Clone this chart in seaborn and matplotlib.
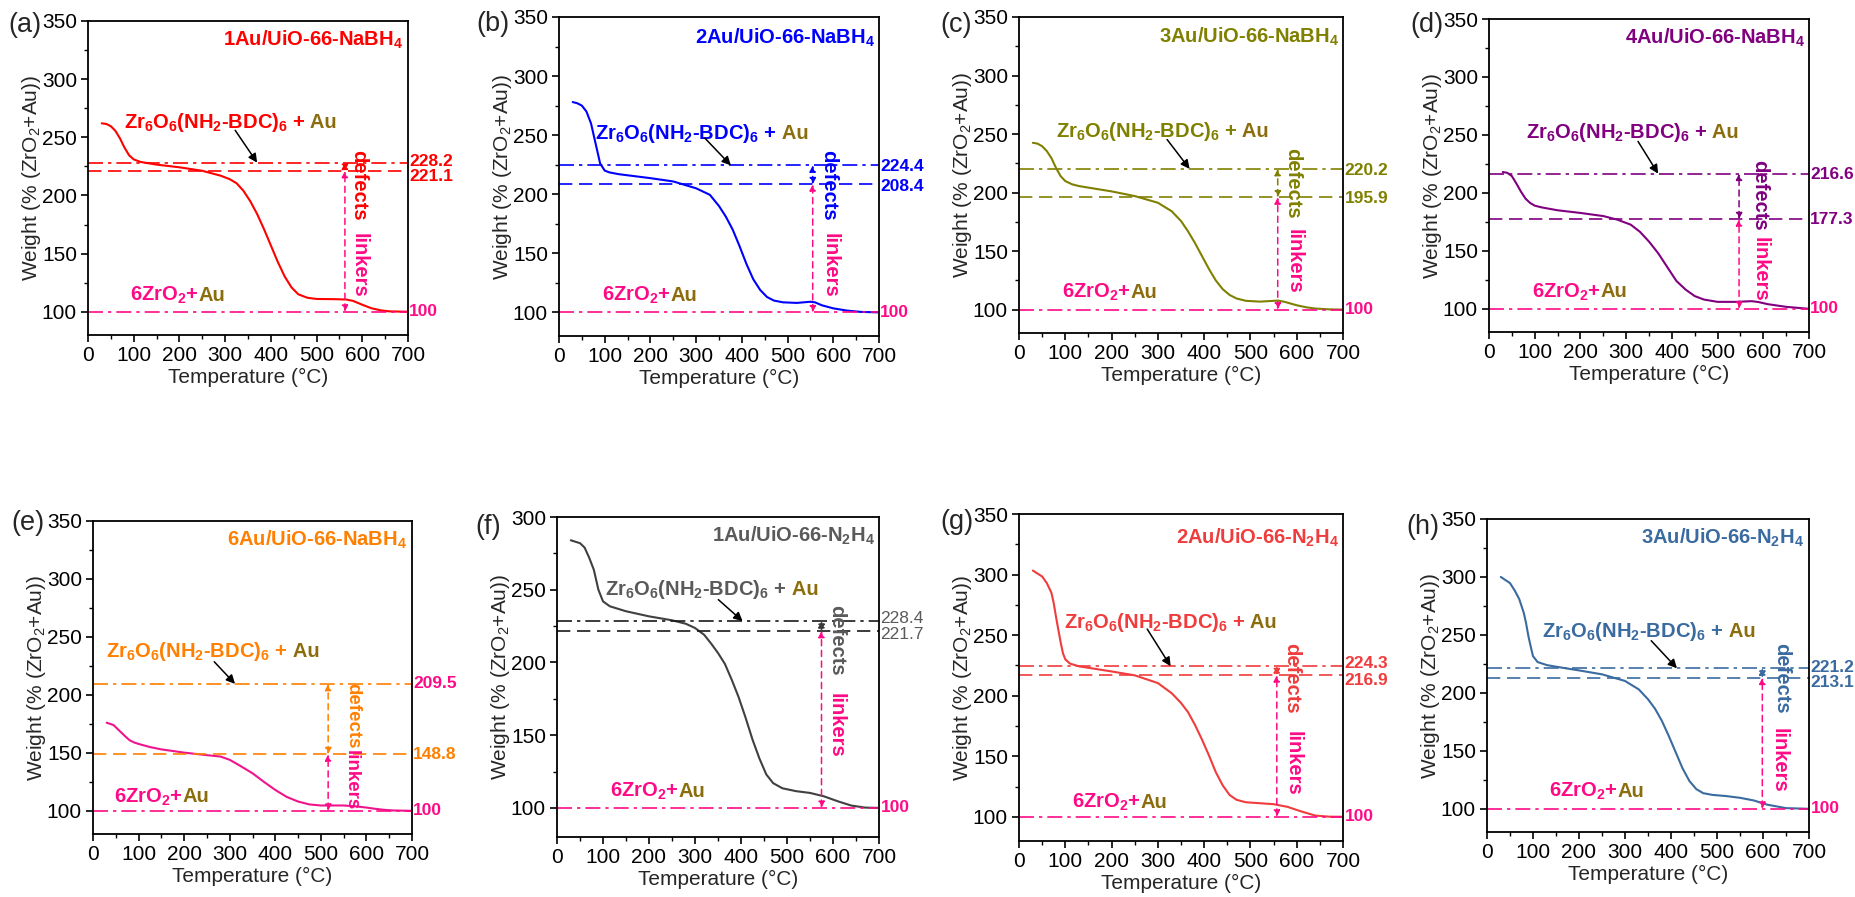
import matplotlib
matplotlib.use("Agg")
import matplotlib.pyplot as plt
import numpy as np
import pandas as pd
import seaborn as sns
from matplotlib.offsetbox import TextArea, HPacker, AnnotationBbox
from matplotlib.ticker import MultipleLocator

# ---------------- TGA curves: temperature (°C) and normalised weight (%) ----------------
temp_a = [30, 40, 50, 60, 70, 80, 90, 100, 115, 150, 200, 250, 290, 310, 325, 340, 355, 370,
          385, 400, 415, 430, 445, 460, 480, 500, 540, 565, 580, 600, 620, 640, 660, 700]
weight_a = [262, 261.5, 259.5, 255.5, 249, 241, 234.5, 231, 228.8, 226.5, 224.2, 221.2, 217,
            214, 210.5, 204, 195, 184, 171, 157, 143, 130.5, 121, 115, 112, 111, 110.8, 110.5,
            109.3, 106, 103, 101.2, 100.3, 100]

temp_b = [30, 40, 50, 60, 70, 80, 90, 100, 110, 130, 200, 250, 300, 330, 350, 365, 380, 395,
          410, 425, 440, 455, 470, 490, 520, 550, 560, 575, 600, 630, 660, 700]
weight_b = [278, 277, 275, 270, 260, 243, 226, 220, 218.5, 217, 213.6, 210.8, 205, 199.5, 190,
            181, 170, 156, 141, 128, 119, 113, 110, 108.5, 108, 109, 108.5, 106, 103.4, 101.5,
            100.4, 100]

temp_c = [30, 40, 50, 60, 70, 80, 90, 100, 115, 130, 200, 250, 300, 330, 350, 365, 380, 395,
          410, 425, 440, 455, 470, 490, 520, 560, 575, 600, 620, 640, 670, 700]
weight_c = [242.5, 241.8, 239.6, 235.5, 229.5, 221, 214, 209.8, 207, 205.5, 201, 197, 191.3,
            184, 175.7, 167, 157, 146, 135, 125, 117.5, 112.5, 109.5, 107.5, 106.8, 107.7,
            106.5, 103.7, 102, 100.9, 100.2, 100]

temp_d = [30, 40, 50, 60, 70, 80, 90, 100, 115, 150, 200, 250, 280, 310, 330, 350, 370, 390,
          410, 430, 450, 470, 500, 540, 575, 590, 610, 650, 700]
weight_d = [218, 217.3, 214.5, 208, 201, 195, 191.3, 189, 187.5, 185, 182.7, 180, 177, 172.6,
            166.5, 158, 148, 136, 124, 116.6, 111, 108, 106, 106, 106.6, 105.8, 104, 101.7, 100]

temp_e = [30, 45, 60, 70, 80, 90, 100, 125, 150, 200, 250, 280, 300, 320, 350, 375, 400, 425,
          450, 475, 500, 550, 580, 600, 620, 640, 660, 700]
weight_e = [176, 174, 168.3, 164.5, 161, 159, 157.7, 155, 153, 150.2, 148, 146.8, 144, 139.5,
            132.4, 125, 118, 112, 108, 105.5, 104.6, 104.6, 103.7, 102.8, 101.7, 100.8, 100.3, 100]

temp_f = [30, 50, 60, 70, 80, 90, 100, 115, 150, 200, 250, 280, 300, 320, 335, 350, 365, 380,
          395, 410, 425, 440, 455, 470, 490, 520, 550, 580, 610, 640, 670, 700]
weight_f = [284, 282, 279, 272, 263.8, 250, 242, 238.6, 235.2, 231.7, 229, 226.6, 223.7, 219,
            213, 206.5, 199, 188, 176, 162, 147, 134, 123, 117, 113.5, 111.5, 110.3, 108, 104.6,
            101.6, 100.2, 100]

temp_g = [30, 50, 60, 70, 75, 80, 85, 90, 95, 100, 110, 130, 200, 250, 300, 330, 350, 365, 380,
          395, 410, 425, 440, 455, 470, 490, 520, 550, 580, 610, 640, 670, 700]
weight_g = [303.3, 298.4, 293, 285, 276.4, 265, 254.4, 244, 235, 230, 226.5, 224.2, 220, 216.8,
            210.4, 202, 194, 186.5, 176, 164, 151, 137, 126, 118, 114, 112, 111.2, 110.4, 108.2,
            104.4, 101, 100.1, 100]

temp_h = [30, 50, 60, 70, 80, 85, 90, 95, 100, 110, 130, 150, 200, 250, 300, 330, 350, 365, 380,
          395, 410, 425, 440, 455, 470, 490, 520, 550, 580, 610, 650, 700]
weight_h = [300, 294.7, 288.5, 281, 269, 260, 249, 240, 231.7, 226.6, 224, 222.6, 219.4, 216,
            210.3, 203, 194.5, 186.5, 176, 163, 149, 135, 124, 117, 113.5, 112, 111, 109.5, 107.2,
            103.5, 100.6, 100]

# sample names, panel letters and the characteristic weight levels
panel_letters = ["(a)", "(b)", "(c)", "(d)", "(e)", "(f)", "(g)", "(h)"]
sample_names = ["1Au/UiO-66-NaBH$_4$", "2Au/UiO-66-NaBH$_4$", "3Au/UiO-66-NaBH$_4$",
                "4Au/UiO-66-NaBH$_4$", "6Au/UiO-66-NaBH$_4$", "1Au/UiO-66-N$_2$H$_4$",
                "2Au/UiO-66-N$_2$H$_4$", "3Au/UiO-66-N$_2$H$_4$"]
ideal_levels = [228.2, 224.4, 220.2, 216.6, 209.5, 228.4, 224.3, 221.2]
actual_levels = [221.1, 208.4, 195.9, 177.3, 148.8, 221.7, 216.9, 213.1]
oxide_level = 100
y_tops = [350, 350, 350, 350, 350, 300, 350, 350]

temps = [temp_a, temp_b, temp_c, temp_d, temp_e, temp_f, temp_g, temp_h]
weights = [weight_a, weight_b, weight_c, weight_d, weight_e, weight_f, weight_g, weight_h]

# ---------------- styling ----------------
MAGENTA = "#FF0A86"
GOLD = "#8C6D0E"
panel_colors = ["#FF0000", "#0000FF", "#808000", "#800080", "#FF8000", "#5A5A5A", "#F03C3C", "#3A6BA0"]
curve_colors = ["#FF0000", "#0000FF", "#808000", "#800080", "#F0148C", "#404040", "#F03C3C", "#3A6BA0"]
line_colors = ["#FF0000", "#0000FF", "#808000", "#800080", "#FF8000", "#1A1A1A", "#F03C3C", "#3A6BA0"]

# axes boxes in pixels: left, top, right, bottom
axes_px = [(88, 21, 408, 335), (559, 17, 879, 336), (1019, 17, 1343, 333), (1489, 19, 1809, 332),
           (93, 521, 412, 834), (557, 517, 879, 837), (1019, 514, 1343, 841), (1487, 519, 1809, 832)]
letter_px = [(8, 25), (476, 24), (940, 25), (1410, 25), (11, 523), (475, 527), (940, 522), (1406, 527)]

# annotation placement per panel (data coordinates)
layout = [
    dict(title=(690, 334), formula=(78, 262.6), arrow=((322, 256), 370), vx=562,
         defects=(591, 239), linkers=(594, 168), oxide=(92, 114), lab=(229.4, 216.6)),
    dict(title=(691, 332), formula=(79, 251.7), arrow=((319, 247.5), 376), vx=555,
         defects=(589, 237.6), linkers=(593, 167), oxide=(93, 114), lab=(223.4, 206.5)),
    dict(title=(691, 333), formula=(79, 252.4), arrow=((320, 245.3), 368.6), vx=559,
         defects=(592, 238), linkers=(595, 168.5), oxide=(93.6, 114.5), lab=(219.2, 194.7)),
    dict(title=(690.7, 333.4), formula=(80, 252.4), arrow=((326, 244.4), 370), vx=547,
         defects=(592, 228.6), linkers=(594, 162), oxide=(95, 114.4), lab=(215.7, 177)),
    dict(title=(689, 333.4), formula=(29, 237.2), arrow=((266, 228.6), 311.7), vx=516,
         defects=(571, 210.5), linkers=(567, 152.5), oxide=(45, 111.8), lab=(209.4, 148.2)),
    dict(title=(690.5, 287.2), formula=(105, 250), arrow=((350.7, 243.2), 403.5), vx=575,
         defects=(607, 239.7), linkers=(607, 179), oxide=(115.7, 111.5), lab=(229.9, 219.1)),
    dict(title=(691, 330), formula=(96.7, 260.4), arrow=((277, 255), 327.6), vx=557,
         defects=(589.5, 243.4), linkers=(593, 170.6), oxide=(115.4, 112), lab=(226.4, 212.4)),
    dict(title=(688, 333.4), formula=(120, 252.6), arrow=((357, 245), 413), vx=598.5,
         defects=(640, 243.2), linkers=(636, 170), oxide=(135, 115.2), lab=(221.7, 208.8)),
]

sns.set_theme(style="ticks")
plt.rcParams["font.family"] = ["Liberation Sans", "DejaVu Sans"]
plt.rcParams["mathtext.default"] = "regular"
plt.rcParams["axes.linewidth"] = 1.3
plt.rcParams["axes.edgecolor"] = "black"
plt.rcParams["xtick.color"] = "black"
plt.rcParams["ytick.color"] = "black"

W_PX, H_PX = 1856, 897
fig = plt.figure(figsize=(W_PX / 100, H_PX / 100), dpi=100)

DASHDOT = (0, (9, 3, 2, 3))
DASHED = (0, (8, 4))
FS = 15


def rich_text(ax, parts, xy, fs):
    boxes = [TextArea(s, textprops=dict(color=c, fontsize=fs, fontweight="bold")) for s, c in parts]
    pack = HPacker(children=boxes, align="baseline", pad=0, sep=0)
    ab = AnnotationBbox(pack, xy, xycoords="data", box_alignment=(0, 0.5), frameon=False,
                        pad=0, annotation_clip=False)
    ax.add_artist(ab)


for i in range(8):
    l, t, r, b = axes_px[i]
    ax = fig.add_axes([l / W_PX, 1 - b / H_PX, (r - l) / W_PX, (b - t) / H_PX])
    pc, cc, lc = panel_colors[i], curve_colors[i], line_colors[i]
    lay = layout[i]
    upper, lower = ideal_levels[i], actual_levels[i]

    df = pd.DataFrame({"Temperature": temps[i], "Weight": weights[i]})
    sns.lineplot(data=df, x="Temperature", y="Weight", ax=ax, color=cc, lw=1.5,
                 estimator=None, sort=False)

    ax.axhline(upper, color=lc, lw=1.2, ls=DASHDOT)
    ax.axhline(lower, color=lc, lw=1.2, ls=DASHED)
    ax.axhline(oxide_level, color=MAGENTA, lw=1.2, ls=DASHDOT)

    ax.set_xlim(0, 700)
    ax.set_ylim(80, y_tops[i])
    ax.xaxis.set_major_locator(MultipleLocator(100))
    ax.xaxis.set_minor_locator(MultipleLocator(50))
    ax.yaxis.set_major_locator(MultipleLocator(50))
    ax.yaxis.set_minor_locator(MultipleLocator(25))
    ax.set_yticks([v for v in range(100, y_tops[i] + 1, 50)])
    ax.tick_params(which="major", direction="out", length=5, width=1.2, labelsize=FS, pad=3)
    ax.tick_params(which="minor", direction="out", length=3, width=1.0)
    for s in ax.spines.values():
        s.set_visible(True)
        s.set_linewidth(1.3)
    ax.set_xlabel("Temperature (°C)", fontsize=FS, labelpad=2)
    ax.set_ylabel("Weight (% (ZrO$_2$+Au))", fontsize=FS, labelpad=-1)

    # sample name
    ax.text(lay["title"][0], lay["title"][1], sample_names[i], color=pc, fontsize=14.5,
            fontweight="bold", ha="right", va="center")

    # formula with arrow to the ideal level
    rich_text(ax, [("Zr$_6$O$_6$(NH$_2$-BDC)$_6$ +", pc), (" Au", GOLD)], lay["formula"], 14.5)
    (ax0, ay0), ax1 = lay["arrow"]
    ax.annotate("", xy=(ax1, upper), xytext=(ax0, ay0),
                arrowprops=dict(arrowstyle="-|>", color="black", lw=1.1, mutation_scale=13,
                                shrinkA=0, shrinkB=0))

    # residual oxide label
    rich_text(ax, [("6ZrO$_2$+", MAGENTA), ("Au", GOLD)], lay["oxide"], 14.5)

    # double arrows for defects and linkers
    vx = lay["vx"]
    ax.annotate("", xy=(vx, upper), xytext=(vx, lower),
                arrowprops=dict(arrowstyle="<|-|>", color=lc if i != 5 else "#3A3A3A", lw=1.1,
                                ls=(0, (4, 3)), mutation_scale=9, shrinkA=0, shrinkB=0))
    ax.annotate("", xy=(vx, lower), xytext=(vx, oxide_level),
                arrowprops=dict(arrowstyle="<|-|>", color=MAGENTA, lw=1.1,
                                ls=(0, (4, 3)), mutation_scale=9, shrinkA=0, shrinkB=0))
    defect_fs = 13.5 if i == 4 else 14.5
    ax.text(lay["defects"][0], lay["defects"][1], "defects", rotation=-90, color=pc,
            fontsize=defect_fs, fontweight="bold", ha="center", va="top")
    ax.text(lay["linkers"][0], lay["linkers"][1], "linkers", rotation=-90, color=MAGENTA,
            fontsize=defect_fs, fontweight="bold", ha="center", va="top")

    # level values on the right
    weight_style = "normal" if i == 5 else "bold"
    upper_col = MAGENTA if i == 4 else pc
    ax.text(703, lay["lab"][0], f"{upper:.1f}", color=upper_col, fontsize=12.5,
            fontweight=weight_style, ha="left", va="center", clip_on=False)
    ax.text(703, lay["lab"][1], f"{lower:.1f}", color=pc, fontsize=12.5,
            fontweight=weight_style, ha="left", va="center", clip_on=False)
    ax.text(703, oxide_level, f"{oxide_level}", color=MAGENTA, fontsize=12.5,
            fontweight="bold", ha="left", va="center", clip_on=False)

    # panel letter
    lx, ly = letter_px[i]
    fig.text(lx / W_PX, 1 - ly / H_PX, panel_letters[i], fontsize=19.5, ha="left", va="center")

fig.savefig("out.png", dpi=100, facecolor="white")
